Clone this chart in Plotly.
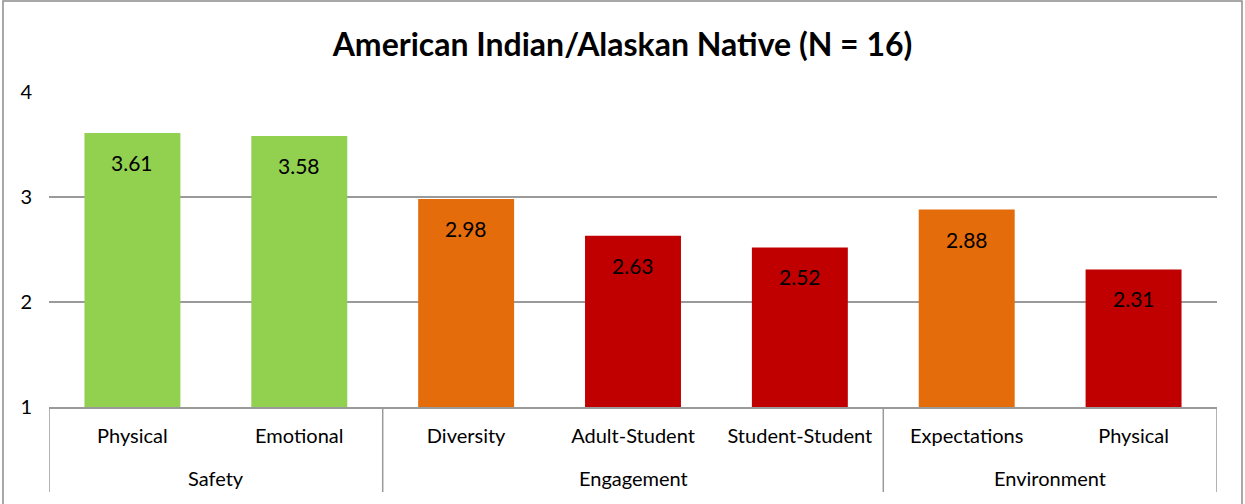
import plotly.graph_objects as go

# data
groups = ["Safety", "Safety", "Engagement", "Engagement", "Engagement", "Environment", "Environment"]
labels = ["Physical", "Emotional", "Diversity", "Adult-Student", "Student-Student", "Expectations", "Physical"]
values = [3.61, 3.58, 2.98, 2.63, 2.52, 2.88, 2.31]
colors = ["#92D050", "#92D050", "#E46C0A", "#C00000", "#C00000", "#E46C0A", "#C00000"]

FONT = "Lato, Carlito, Calibri, sans-serif"
GRID = "#9A9A9A"

xs = list(range(len(values)))

fig = go.Figure()
fig.add_trace(
    go.Bar(
        x=xs,
        y=[v - 1 for v in values],
        base=1,
        marker=dict(color=colors, line_width=0),
        width=0.575,
        hoverinfo="skip",
        showlegend=False,
    )
)

# value labels, inside end like excel
for x, v in zip(xs, values):
    fig.add_annotation(
        x=x, y=v, xref="x", yref="y",
        text=f"{v:.2f}", showarrow=False,
        yanchor="top", yshift=-15,
        font=dict(family=FONT, size=21, color="#000000"),
    )

# group labels and separators
bounds = [-0.5]
for i in range(1, len(groups)):
    if groups[i] != groups[i - 1]:
        bounds.append(i - 0.5)
bounds.append(len(groups) - 0.5)

for b in bounds:
    fig.add_shape(type="line", xref="x", yref="paper", x0=b, x1=b, y0=0, y1=-0.27,
                  line=dict(color=GRID, width=1.5))

seen = []
for g in groups:
    if g not in seen:
        seen.append(g)
for g in seen:
    idx = [i for i, gg in enumerate(groups) if gg == g]
    fig.add_annotation(
        x=sum(idx) / len(idx), y=-0.225, xref="x", yref="paper",
        text=g, showarrow=False, yanchor="middle",
        font=dict(family=FONT, size=20, color="#000000"),
    )

# outer chart border
fig.add_shape(type="rect", xref="paper", yref="paper",
              x0=-0.0394, x1=1.0214, y0=-0.35, y1=1.289,
              line=dict(color="#8C8C8C", width=1.5), layer="below")

fig.update_layout(
    width=1245,
    height=504,
    margin=dict(l=49, r=28, t=92, b=97),
    paper_bgcolor="white",
    plot_bgcolor="white",
    title=dict(
        text="<b>American Indian/Alaskan Native (N = 16)</b>",
        x=0.5, xanchor="center", y=0.912, yanchor="middle",
        font=dict(family=FONT, size=32, color="#000000"),
    ),
    font=dict(family=FONT, size=20, color="#000000"),
    bargap=0.42,
)

fig.update_xaxes(
    range=[-0.5, len(values) - 0.5],
    tickvals=xs,
    ticktext=labels,
    ticks="",
    showgrid=False,
    showline=True,
    linecolor=GRID,
    linewidth=1.5,
    tickfont=dict(family=FONT, size=20),
    ticklabelstandoff=10,
    fixedrange=True,
)
fig.update_yaxes(
    range=[1, 4],
    tickvals=[1, 2, 3, 4],
    showgrid=True,
    gridcolor=GRID,
    gridwidth=1.5,
    zeroline=False,
    showline=False,
    ticks="",
    tickfont=dict(family=FONT, size=20),
    ticklabelstandoff=16,
    fixedrange=True,
)

fig.write_html(
    "out.html",
    config={"displayModeBar": False},
    post_script="document.body.style.margin='0';document.body.style.overflow='hidden';",
)
